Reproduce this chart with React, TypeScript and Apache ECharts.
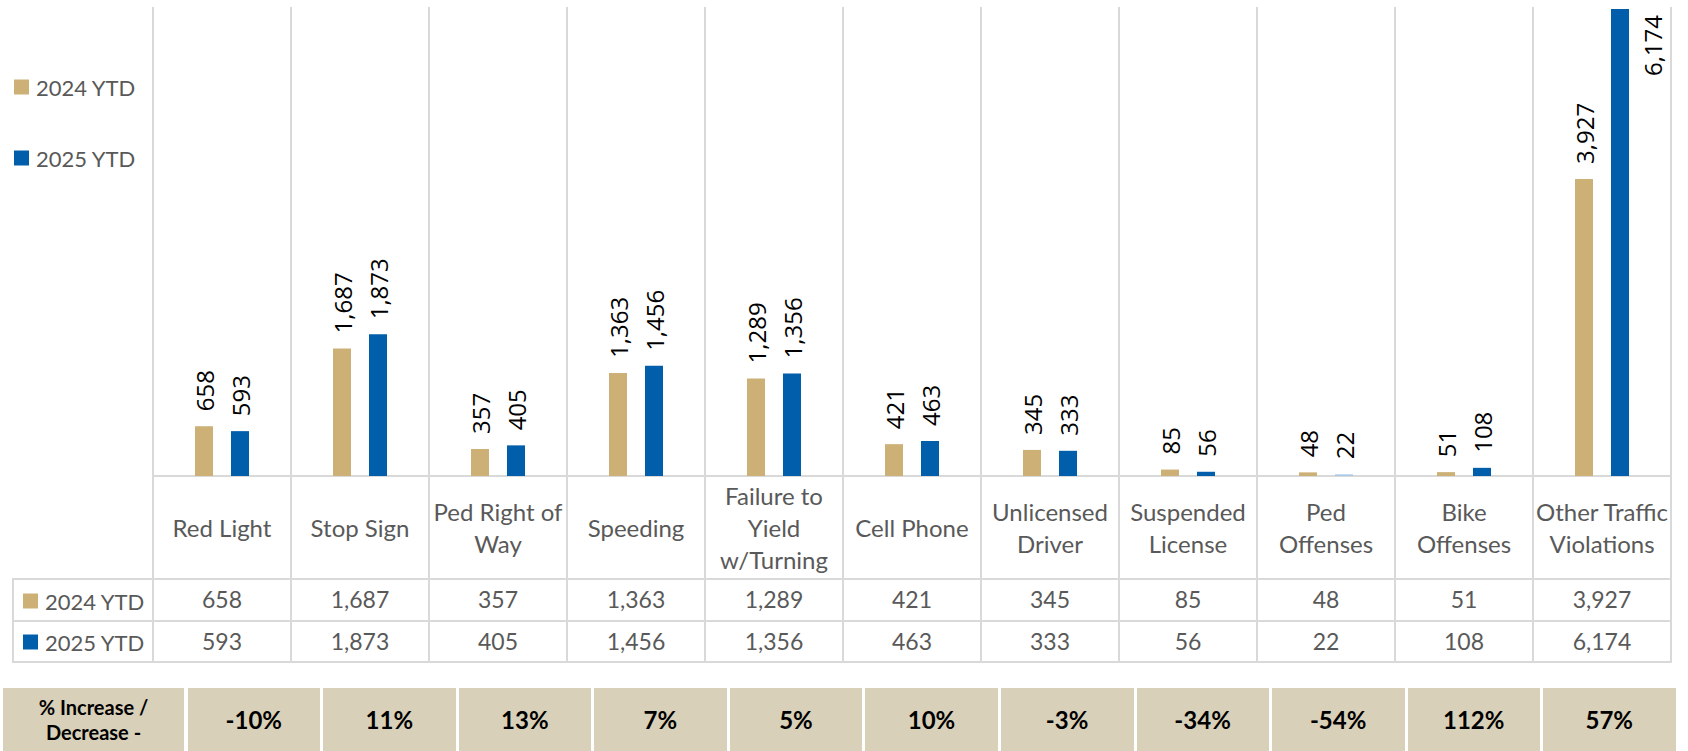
import React, { useEffect, useRef } from "react";
import * as echarts from "echarts";

// ---- data ----
const categories = [
  "Red Light",
  "Stop Sign",
  "Ped Right of\nWay",
  "Speeding",
  "Failure to\nYield\nw/Turning",
  "Cell Phone",
  "Unlicensed\nDriver",
  "Suspended\nLicense",
  "Ped\nOffenses",
  "Bike\nOffenses",
  "Other Traffic\nViolations",
];
const seriesNames = ["2024 YTD", "2025 YTD"];
const ytd2024 = [658, 1687, 357, 1363, 1289, 421, 345, 85, 48, 51, 3927];
const ytd2025 = [593, 1873, 405, 1456, 1356, 463, 333, 56, 22, 108, 6174];
const pctChange = ["-10%", "11%", "13%", "7%", "5%", "10%", "-3%", "-34%", "-54%", "112%", "57%"];
const pctHeader = "% Increase /\nDecrease -";
const highlightedCategory = "Ped\nOffenses";

// ---- styles ----
const GOLD = "#CCB076";
const BLUE = "#005EAA";
const LIGHT_BLUE = "#A9C9E9";
const GRID_LINE = "#D9D9D9";
const TEXT = "#595959";
const BEIGE = "#D9D0B9";
const FONT = "Lato, 'Open Sans', sans-serif";
const LABEL_FONT = "'Open Sans', 'Noto Sans', sans-serif";

const fmt = (v: number) => v.toLocaleString("en-US");

export default function App() {
  const ref = useRef<HTMLDivElement>(null);

  useEffect(() => {
    if (!ref.current) return;
    const chart = echarts.init(ref.current, null, { renderer: "svg" });

    const barLabel = {
      show: true,
      position: "top",
      rotate: 90,
      align: "left",
      verticalAlign: "middle",
      distance: 15,
      formatter: (p: any) => fmt(p.value),
      fontFamily: LABEL_FONT,
      fontSize: 24,
      color: "#000",
    };

    const tableAxis = (data: string[], offset: number, margin: number, showLabel: boolean) => ({
      type: "category",
      gridIndex: 0,
      position: "bottom",
      offset,
      data,
      axisLine: { show: true, onZero: false, lineStyle: { color: GRID_LINE, width: 2 } },
      axisTick: { show: false },
      splitLine: { show: false },
      axisLabel: {
        show: showLabel,
        interval: 0,
        margin,
        verticalAlign: "middle",
        color: TEXT,
        fontFamily: FONT,
        fontSize: 23,
      },
    });

    const legendBase = {
      orient: "vertical",
      padding: 0,
      itemWidth: 15,
      itemHeight: 15,
      icon: "rect",
      data: seriesNames,
      selectedMode: false,
      textStyle: { color: TEXT, fontFamily: FONT, fontSize: 22, lineHeight: 24, padding: [0, 0, 0, 2] },
    };

    const maxValue = Math.max(...ytd2025);
    const hiIdx = categories.indexOf(highlightedCategory);

    const option: any = {
      animation: false,
      backgroundColor: "#ffffff",
      legend: [
        { ...legendBase, left: 14, top: 75, itemGap: 47 },
        { ...legendBase, left: 23, top: 589, itemGap: 17 },
      ],
      grid: [
        { left: 153, top: 7, width: 1518, height: 469 },
        { left: 183, top: 688, width: 1494, height: 63 },
      ],
      xAxis: [
        {
          type: "category",
          gridIndex: 0,
          position: "bottom",
          data: categories,
          axisLine: { show: true, onZero: false, lineStyle: { color: GRID_LINE, width: 2 } },
          axisTick: { show: true, length: 186, interval: 0, lineStyle: { color: GRID_LINE, width: 2 } },
          splitLine: { show: true, interval: 0, lineStyle: { color: GRID_LINE, width: 2 } },
          axisLabel: {
            interval: 0,
            margin: 51,
            verticalAlign: "middle",
            lineHeight: 32,
            color: TEXT,
            fontFamily: FONT,
            fontSize: 24,
          },
        },
        tableAxis(ytd2024.map(fmt), 103, 19.5, true),
        tableAxis(ytd2025.map(fmt), 145, 19.5, true),
        tableAxis(categories, 186, 0, false),
        {
          type: "category",
          gridIndex: 1,
          position: "top",
          data: pctChange,
          axisLine: { show: false },
          axisTick: { show: false },
          splitArea: { show: true, interval: 0, areaStyle: { color: [BEIGE] } },
          splitLine: { show: true, interval: 0, lineStyle: { color: "#ffffff", width: 3 } },
          axisLabel: {
            inside: true,
            interval: 0,
            margin: 31.5,
            verticalAlign: "middle",
            color: "#000",
            fontFamily: FONT,
            fontSize: 24,
            fontWeight: "bold",
          },
        },
      ],
      yAxis: [
        { type: "value", gridIndex: 0, min: 0, max: 6200, show: false },
        {
          type: "category",
          gridIndex: 1,
          data: [pctHeader],
          axisLine: { show: false },
          axisTick: { show: false },
          splitLine: { show: false },
          axisLabel: {
            margin: 92.5,
            align: "center",
            verticalAlign: "middle",
            width: 181,
            height: 63,
            backgroundColor: BEIGE,
            color: "#000",
            fontFamily: FONT,
            fontSize: 20,
            fontWeight: "bold",
            lineHeight: 25,
          },
        },
      ],
      graphic: [
        {
          type: "rect",
          shape: { x: 13, y: 579, width: 140, height: 83 },
          style: { fill: "none", stroke: GRID_LINE, lineWidth: 2 },
        },
        {
          type: "line",
          shape: { x1: 13, y1: 621, x2: 153, y2: 621 },
          style: { stroke: GRID_LINE, lineWidth: 2 },
        },
      ],
      series: [
        {
          type: "bar",
          name: seriesNames[0],
          xAxisIndex: 0,
          yAxisIndex: 0,
          data: ytd2024,
          barWidth: 18,
          barGap: "100%",
          itemStyle: { color: GOLD },
          label: barLabel,
        },
        {
          type: "bar",
          name: seriesNames[1],
          xAxisIndex: 0,
          yAxisIndex: 0,
          data: ytd2025.map((v, i) => {
            const item: any = { value: v };
            if (i === hiIdx) item.itemStyle = { color: LIGHT_BLUE };
            if (v === maxValue) item.label = { position: [41, 6], align: "right", verticalAlign: "middle" };
            return item;
          }),
          barWidth: 18,
          barGap: "100%",
          itemStyle: { color: BLUE },
          label: barLabel,
        },
      ],
    };

    chart.setOption(option);
    return () => chart.dispose();
  }, []);

  return (
    <div
      ref={ref}
      style={{ position: "fixed", left: 0, top: 0, width: 1688, height: 751, background: "#fff" }}
    />
  );
}
